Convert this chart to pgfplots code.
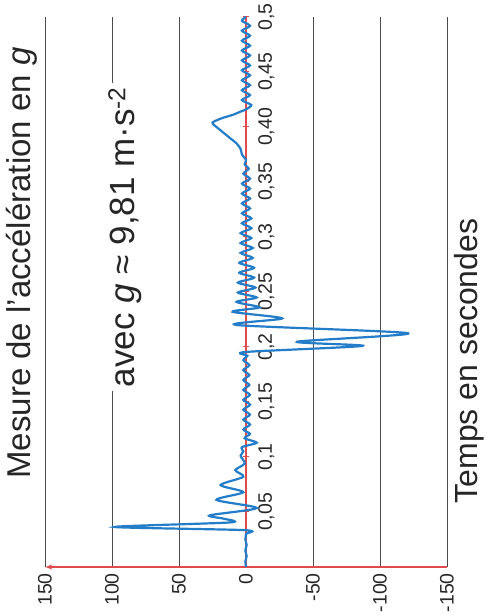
\documentclass[border=0pt]{standalone}
\usepackage{pgfplots}
\usepackage{pgfplotstable}
\pgfplotsset{compat=1.18}
\usepackage{fontspec}
\setmainfont{Liberation Sans}
\definecolor{curve}{RGB}{35,125,200}
\definecolor{axred}{RGB}{225,75,75}
\pgfplotstableread{
t a
0 0
0.005 0.5
0.01 -0.5
0.015 0.5
0.02 -0.5
0.025 0.5
0.03 0
0.0335 1
0.0364 98
0.0405 12
0.044 17
0.047 27
0.0536 -8
0.061 22
0.068 2
0.0745 19
0.082 2
0.088 8
0.094 1
0.101 4
0.105 2
0.109 3
0.113 -8
0.117 1
0.121 -3
0.125 2
0.1295 -3
0.134 2
0.1385 -3
0.143 2
0.1475 -3
0.152 2
0.1565 -3
0.161 2
0.1655 -2.5
0.17 2
0.1745 -2.5
0.179 2
0.1835 -2.5
0.188 2
0.192 -1
0.1955 0
0.201 -87
0.2048 -38
0.2125 -121
0.22 7
0.226 -27
0.232 10
0.236 -10
0.241 7
0.245 -8
0.2495 6
0.254 -7
0.2585 6
0.263 -6
0.2675 5
0.272 -6
0.2765 5
0.281 -5
0.2855 4
0.29 -5
0.2945 4
0.299 -4
0.3035 4
0.308 -4
0.3125 3
0.317 -4
0.3215 3
0.326 -3
0.3305 3
0.335 -3
0.3395 3
0.344 -3
0.3485 3
0.353 -3
0.3575 2
0.362 -2
0.366 1
0.37 0
0.375 3
0.38 4
0.385 7
0.39 12
0.395 17
0.4 22
0.404 25
0.408 18
0.411 10
0.414 4
0.416 0
0.42 -4
0.4245 3
0.429 -3
0.4335 3
0.438 -3
0.4425 3
0.447 -3
0.4515 3
0.456 -3
0.4605 3
0.465 -3
0.4695 3
0.474 -3
0.4785 3
0.483 -3
0.4875 3
0.492 -3
0.4965 3
0.5 0
}\accdata
\begin{document}
\begin{tikzpicture}
\useasboundingbox (-45pt,-49pt) rectangle (442pt,567pt);
\begin{axis}[
  at={(0pt,0pt)}, anchor=south west,
  scale only axis, width=402pt, height=550pt,
  x dir=reverse,
  xmin=-150, xmax=150, ymin=0, ymax=0.5,
  axis x line=bottom, axis y line=middle,
  x axis line style={axred, line width=1.3pt, -latex},
  y axis line style={axred, line width=1.3pt, -},
  xtick={-150,-100,-50,0,50,100,150},
  xticklabels={-150,-100,-50,0,50,100,150},
  ytick={0,0.05,0.1,0.15,0.2,0.25,0.3,0.35,0.4,0.45,0.5},
  yticklabels={0,{0,05},{0,1},{0,15},{0,2},{0,25},{0,3},{0,35},{0,40},{0,45},{0,5}},
  xtick style={draw=none},
  ytick style={axred, line width=1pt},
  major tick length=6pt,
  tick label style={font=\fontsize{19.5}{22}\selectfont, text=black!85},
  xticklabel style={rotate=90, anchor=east, inner sep=3pt},
  yticklabel style={rotate=90, anchor=north, inner sep=15pt},
  xmajorgrids, ymajorgrids=false,
  grid style={black!70, line width=0.8pt},
  /pgf/number format/assume math mode=true,
  clip=false,
]
\addplot[curve, line width=2.2pt, smooth, tension=0.45] table[x=a, y=t] {\accdata};
\end{axis}
\node[rotate=90, font=\fontsize{33}{38}\selectfont, text=black!85] at (-23pt,304pt) {Mesure de l'accélération en \textit{g}};
\node[rotate=90, fill=white, inner sep=4pt, font=\fontsize{35}{40}\selectfont, text=black!85] at (80pt,330pt) {avec \textit{g} ≈ 9,81 m·s\textsuperscript{-2}};
\node[rotate=90, anchor=base, inner sep=0pt, font=\fontsize{32}{38}\selectfont, text=black!85] at (432pt,206pt) {Temps en secondes};
\end{tikzpicture}
\end{document}
